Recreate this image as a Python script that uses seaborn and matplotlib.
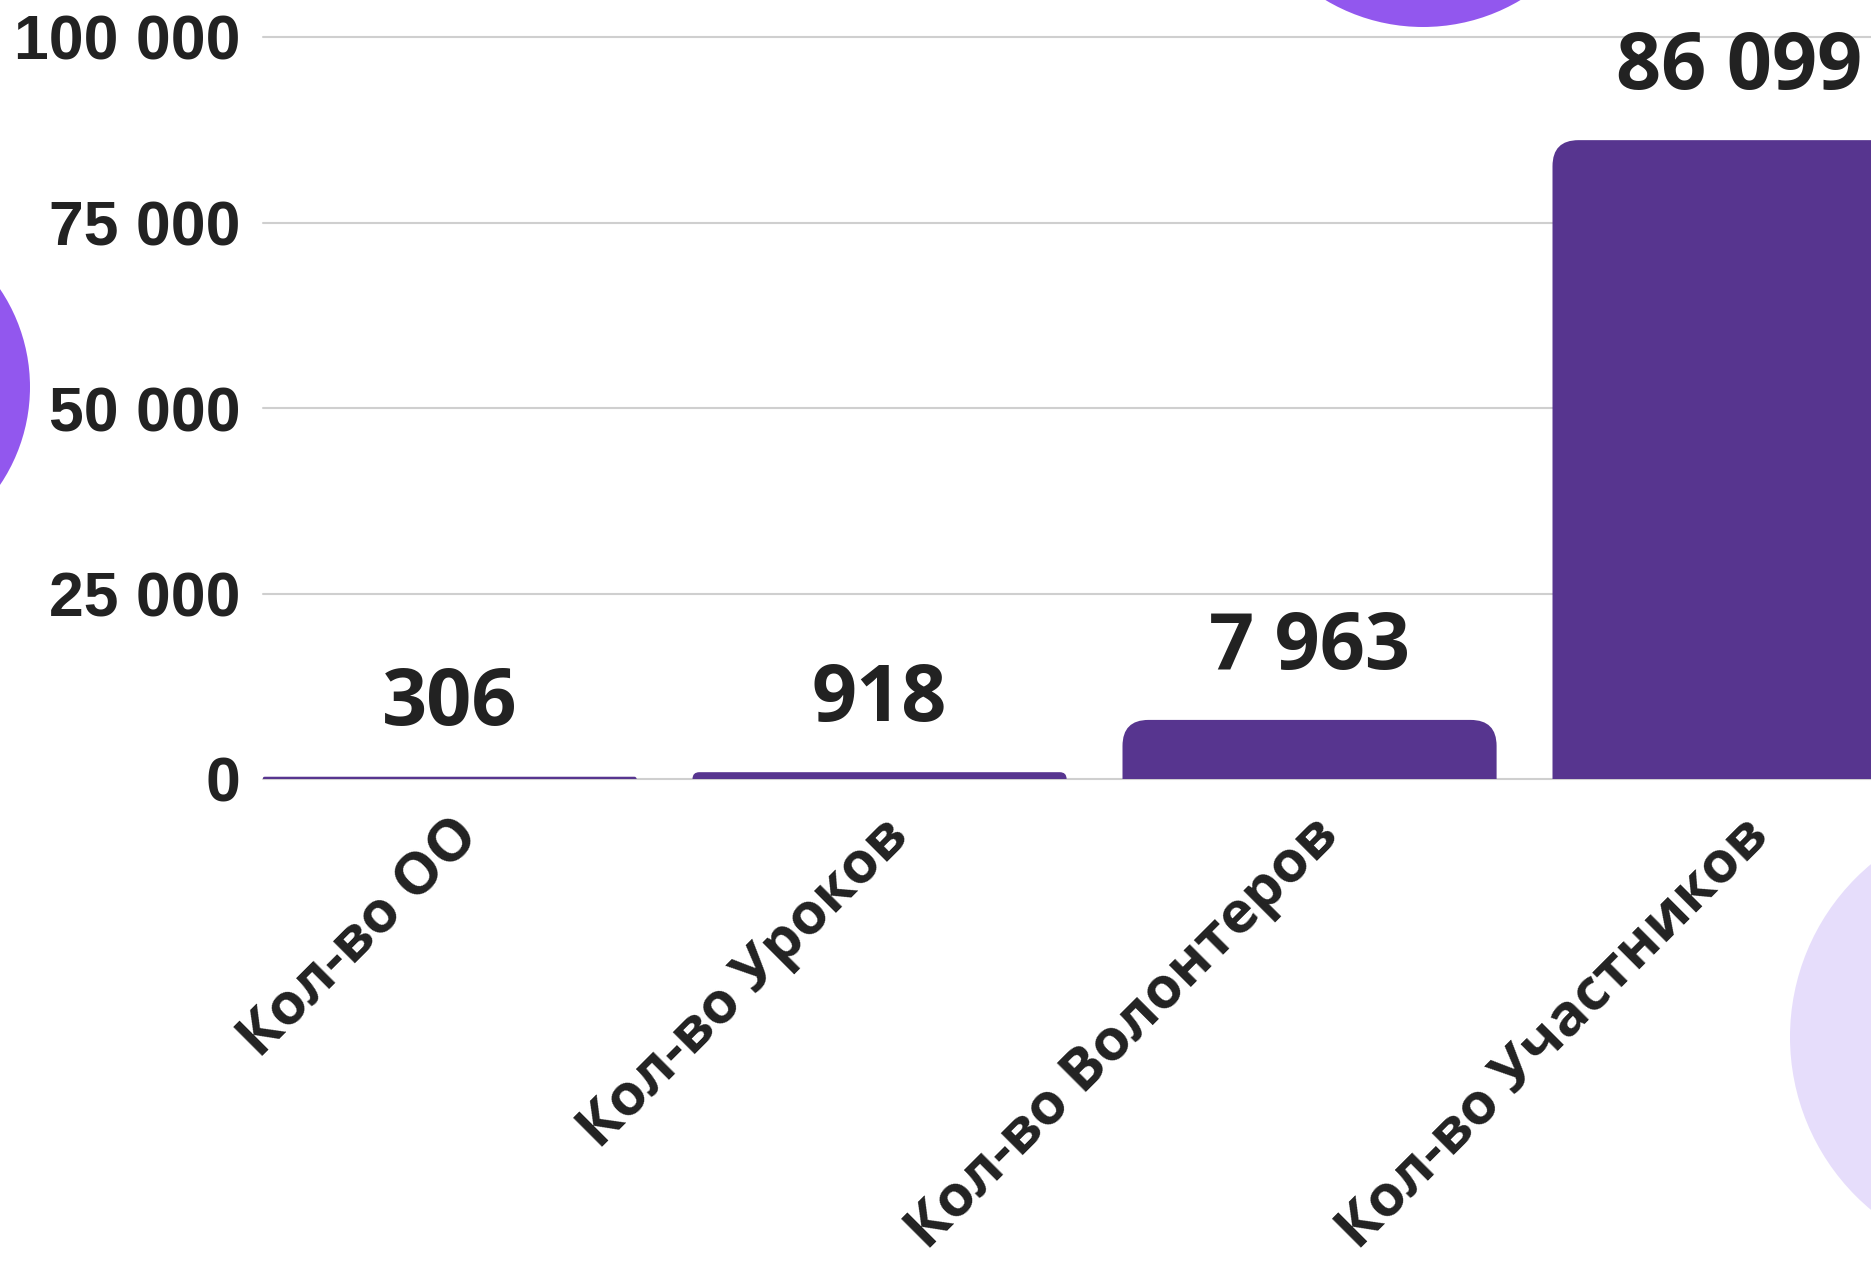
import pandas as pd
import matplotlib
matplotlib.use("Agg")
import matplotlib.pyplot as plt
from matplotlib.patches import Circle, PathPatch
from matplotlib.path import Path
from matplotlib.transforms import IdentityTransform, ScaledTranslation
import seaborn as sns

categories = ["Кол-во ОО", "Кол-во Уроков", "Кол-во Волонтеров", "Кол-во Участников"]
values = [306, 918, 7963, 86099]
y_ticks = [0, 25000, 50000, 75000, 100000]

BAR_COLOR = "#57358F"
TEXT_COLOR = "#222222"
GRID_COLOR = "#CFCFCF"

sns.set_theme(style="white")

W, H, DPI = 1871, 1277, 100
fig = plt.figure(figsize=(W / DPI, H / DPI), dpi=DPI)
fig.patch.set_facecolor("white")

# decorative circles, in pixels (origin top-left)
for cx, cy, r, c in [(1423, -163, 190, "#9257EE"),
                     (-145, 387, 175, "#9257EE"),
                     (2015, 1037, 225, "#E6DDFB")]:
    fig.add_artist(Circle((cx, H - cy), r, transform=IdentityTransform(),
                          facecolor=c, edgecolor="none", zorder=0))

# axes: left edge at bar 1, zero line at y=779, 100 000 at y=37
step_px = 430
left, zero_y, top_y = 262.5, 779, 37
ax = fig.add_axes([left / W, (H - zero_y) / H, 4 * step_px / W, (zero_y - top_y) / H])
ax.set_facecolor("none")

df = pd.DataFrame({"category": categories, "value": values})
sns.barplot(data=df, x="category", y="value", color=BAR_COLOR, width=0.87,
            saturation=1, ax=ax)

ax.set_xlim(-0.435, 3.565)
ax.set_ylim(0, 100000)

# swap the plain bars for ones with rounded top corners
sx = ax.bbox.width / 4.0
sy = ax.bbox.height / 100000
for p in list(ax.patches):
    x0, w, h = p.get_x(), p.get_width(), p.get_height()
    r_px = min(26, h * sy, w * sx / 2)
    rx, ry = r_px / sx, r_px / sy
    x1, y1 = x0 + w, h
    verts = [(x0, 0), (x0, y1 - ry), (x0, y1), (x0 + rx, y1),
             (x1 - rx, y1), (x1, y1), (x1, y1 - ry), (x1, 0), (x0, 0)]
    codes = [Path.MOVETO, Path.LINETO, Path.CURVE3, Path.CURVE3,
             Path.LINETO, Path.CURVE3, Path.CURVE3, Path.LINETO, Path.CLOSEPOLY]
    ax.add_patch(PathPatch(Path(verts, codes), facecolor=BAR_COLOR,
                           edgecolor="none", zorder=3))
    p.remove()

for i, v in enumerate(values):
    ax.annotate(f"{v:,}".replace(",", " "), (i, v), xytext=(0, 37),
                textcoords="offset points", ha="center", va="baseline",
                fontsize=57, fontweight="bold", family="Open Sans",
                color=TEXT_COLOR, annotation_clip=False)

ax.set_yticks(y_ticks)
ax.set_yticklabels([f"{t:,}".replace(",", " ") for t in y_ticks],
                   fontsize=45, fontweight="bold", family="Liberation Sans",
                   color=TEXT_COLOR)
ax.set_xticks(range(len(categories)))
ax.set_xticklabels(categories, rotation=45, ha="right", rotation_mode="anchor",
                   fontsize=42, fontweight="bold", family="Open Sans",
                   color=TEXT_COLOR)
shift = ScaledTranslation(12 / DPI, 0, fig.dpi_scale_trans)
for lbl in ax.get_xticklabels():
    lbl.set_transform(lbl.get_transform() + shift)
ax.tick_params(axis="y", length=0, pad=16)
ax.tick_params(axis="x", length=0, pad=20)
ax.set(xlabel="", ylabel="")

ax.yaxis.grid(True, color=GRID_COLOR, lw=1.5)
ax.set_axisbelow(True)
for line in ax.get_ygridlines():
    line.set_clip_on(False)
sns.despine(ax=ax, left=True, bottom=True)

fig.savefig("out.png", dpi=DPI)
